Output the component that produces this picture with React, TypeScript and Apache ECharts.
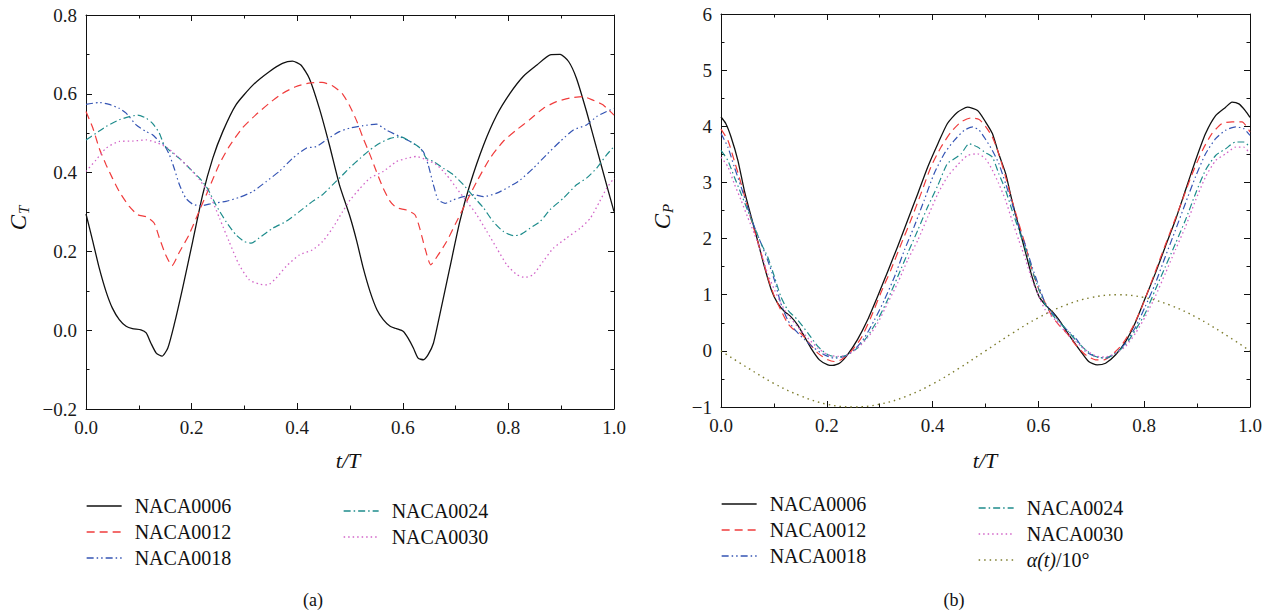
import React, { useEffect, useRef } from 'react';
import * as echarts from 'echarts';

// ---------- (a) thrust coefficient C_T vs t/T ----------
const ct0006: number[][] = [
  [0, 0.295], [0.013, 0.225], [0.025, 0.158], [0.038, 0.098], [0.05, 0.056], [0.063, 0.027], [0.076, 0.01],
  [0.088, 0.004], [0.104, 0.001], [0.114, -0.007], [0.123, -0.033], [0.133, -0.058], [0.144, -0.066],
  [0.155, -0.045], [0.167, 0.014], [0.183, 0.107], [0.202, 0.225], [0.221, 0.344], [0.24, 0.436],
  [0.259, 0.504], [0.284, 0.572], [0.316, 0.622], [0.347, 0.656], [0.372, 0.677], [0.391, 0.683],
  [0.407, 0.673], [0.423, 0.639], [0.442, 0.563], [0.461, 0.47], [0.48, 0.369], [0.5, 0.288],
  [0.513, 0.225], [0.525, 0.158], [0.538, 0.098], [0.551, 0.052], [0.563, 0.027], [0.576, 0.01],
  [0.588, 0.004], [0.601, -0.003], [0.61, -0.02], [0.62, -0.045], [0.629, -0.071], [0.639, -0.075],
  [0.648, -0.062], [0.658, -0.033], [0.67, 0.039], [0.689, 0.158], [0.708, 0.276], [0.727, 0.369],
  [0.753, 0.47], [0.778, 0.546], [0.803, 0.601], [0.828, 0.644], [0.854, 0.673], [0.879, 0.699],
  [0.898, 0.7], [0.914, 0.682], [0.929, 0.639], [0.948, 0.555], [0.967, 0.462], [0.986, 0.369], [1.0, 0.301],
];
const ct0012: number[][] = [
  [0, 0.555], [0.013, 0.513], [0.025, 0.462], [0.038, 0.42], [0.05, 0.386], [0.063, 0.352], [0.082, 0.314],
  [0.098, 0.293], [0.114, 0.288], [0.129, 0.272], [0.139, 0.234], [0.151, 0.191], [0.163, 0.164],
  [0.176, 0.196], [0.195, 0.242], [0.214, 0.301], [0.233, 0.36], [0.252, 0.42], [0.271, 0.466],
  [0.296, 0.513], [0.321, 0.546], [0.347, 0.576], [0.372, 0.601], [0.397, 0.618], [0.422, 0.627],
  [0.447, 0.629], [0.466, 0.621], [0.485, 0.601], [0.5, 0.568], [0.513, 0.53], [0.525, 0.487],
  [0.538, 0.445], [0.55, 0.403], [0.563, 0.36], [0.576, 0.327], [0.588, 0.311], [0.607, 0.305],
  [0.623, 0.293], [0.632, 0.259], [0.642, 0.208], [0.653, 0.166], [0.667, 0.191], [0.683, 0.225],
  [0.702, 0.276], [0.721, 0.327], [0.74, 0.377], [0.765, 0.436], [0.79, 0.479], [0.815, 0.508],
  [0.84, 0.534], [0.866, 0.563], [0.891, 0.58], [0.916, 0.589], [0.941, 0.593], [0.96, 0.584],
  [0.979, 0.572], [1.0, 0.546],
];
const ct0018: number[][] = [
  [0, 0.573], [0.025, 0.578], [0.044, 0.573], [0.063, 0.563], [0.076, 0.551], [0.095, 0.521], [0.114, 0.504],
  [0.126, 0.496], [0.139, 0.479], [0.148, 0.47], [0.158, 0.445], [0.167, 0.411], [0.177, 0.369],
  [0.189, 0.335], [0.202, 0.32], [0.218, 0.316], [0.24, 0.322], [0.265, 0.327], [0.29, 0.337],
  [0.316, 0.352], [0.341, 0.377], [0.366, 0.403], [0.391, 0.436], [0.417, 0.462], [0.436, 0.466],
  [0.455, 0.483], [0.48, 0.504], [0.5, 0.513], [0.525, 0.519], [0.55, 0.523], [0.569, 0.508],
  [0.595, 0.491], [0.614, 0.479], [0.629, 0.466], [0.639, 0.453], [0.648, 0.42], [0.658, 0.369],
  [0.667, 0.331], [0.68, 0.322], [0.696, 0.331], [0.715, 0.339], [0.734, 0.344], [0.753, 0.339],
  [0.778, 0.348], [0.803, 0.365], [0.822, 0.381], [0.847, 0.411], [0.872, 0.445], [0.898, 0.479],
  [0.923, 0.508], [0.948, 0.521], [0.967, 0.542], [0.986, 0.555], [1.0, 0.563],
];
const ct0024: number[][] = [
  [0, 0.483], [0.019, 0.5], [0.038, 0.517], [0.063, 0.534], [0.082, 0.542], [0.098, 0.546], [0.114, 0.538],
  [0.126, 0.525], [0.139, 0.5], [0.148, 0.47], [0.161, 0.453], [0.177, 0.436], [0.196, 0.411],
  [0.215, 0.386], [0.23, 0.36], [0.246, 0.318], [0.265, 0.276], [0.284, 0.242], [0.3, 0.225],
  [0.313, 0.221], [0.328, 0.234], [0.354, 0.259], [0.379, 0.276], [0.404, 0.301], [0.429, 0.327],
  [0.448, 0.344], [0.467, 0.369], [0.486, 0.394], [0.5, 0.413], [0.519, 0.436], [0.538, 0.458],
  [0.557, 0.475], [0.576, 0.487], [0.595, 0.491], [0.614, 0.479], [0.633, 0.462], [0.645, 0.436],
  [0.658, 0.428], [0.677, 0.411], [0.696, 0.394], [0.715, 0.369], [0.734, 0.339], [0.753, 0.31],
  [0.771, 0.276], [0.79, 0.251], [0.809, 0.24], [0.822, 0.242], [0.841, 0.259], [0.86, 0.276],
  [0.879, 0.306], [0.904, 0.335], [0.929, 0.369], [0.948, 0.386], [0.967, 0.411], [0.986, 0.445], [1.0, 0.466],
];
const ct0030: number[][] = [
  [0, 0.403], [0.019, 0.432], [0.038, 0.462], [0.063, 0.479], [0.088, 0.48], [0.114, 0.483], [0.136, 0.475],
  [0.155, 0.462], [0.177, 0.436], [0.196, 0.411], [0.215, 0.382], [0.234, 0.344], [0.253, 0.284],
  [0.271, 0.225], [0.29, 0.166], [0.309, 0.128], [0.328, 0.117], [0.344, 0.115], [0.36, 0.132],
  [0.379, 0.162], [0.404, 0.191], [0.429, 0.204], [0.448, 0.225], [0.467, 0.259], [0.486, 0.301],
  [0.5, 0.33], [0.519, 0.36], [0.538, 0.386], [0.563, 0.403], [0.588, 0.428], [0.607, 0.436],
  [0.626, 0.441], [0.645, 0.432], [0.664, 0.42], [0.683, 0.394], [0.702, 0.36], [0.721, 0.327],
  [0.74, 0.293], [0.759, 0.251], [0.778, 0.208], [0.797, 0.166], [0.816, 0.141], [0.831, 0.134],
  [0.847, 0.141], [0.866, 0.175], [0.885, 0.208], [0.91, 0.234], [0.936, 0.259], [0.955, 0.284],
  [0.973, 0.327], [0.986, 0.36], [1.0, 0.386],
];

// ---------- (b) power coefficient C_P vs t/T ----------
const cp0006: number[][] = [
  [0, 4.165], [0.009, 4.05], [0.019, 3.81], [0.032, 3.39], [0.044, 2.86], [0.057, 2.39], [0.069, 1.97],
  [0.082, 1.5], [0.095, 1.09], [0.107, 0.85], [0.12, 0.7], [0.132, 0.61], [0.145, 0.46], [0.158, 0.25],
  [0.17, 0.05], [0.186, -0.16], [0.202, -0.25], [0.211, -0.26], [0.224, -0.22], [0.239, -0.07],
  [0.258, 0.2], [0.277, 0.55], [0.296, 0.97], [0.315, 1.41], [0.334, 1.86], [0.353, 2.33], [0.372, 2.8],
  [0.391, 3.28], [0.41, 3.69], [0.428, 4.05], [0.447, 4.25], [0.466, 4.34], [0.485, 4.28], [0.5, 4.08],
  [0.513, 3.87], [0.525, 3.51], [0.538, 3.16], [0.55, 2.68], [0.563, 2.21], [0.576, 1.74], [0.588, 1.32],
  [0.601, 0.97], [0.613, 0.82], [0.626, 0.7], [0.639, 0.55], [0.651, 0.38], [0.664, 0.2], [0.68, -0.01],
  [0.695, -0.19], [0.711, -0.25], [0.727, -0.22], [0.746, -0.07], [0.765, 0.17], [0.784, 0.52],
  [0.802, 0.94], [0.821, 1.38], [0.84, 1.86], [0.859, 2.33], [0.878, 2.86], [0.897, 3.39], [0.916, 3.87],
  [0.935, 4.19], [0.954, 4.34], [0.966, 4.43], [0.979, 4.4], [0.991, 4.28], [1.0, 4.16],
];
const cp0012: number[][] = [
  [0, 3.95], [0.013, 3.75], [0.025, 3.39], [0.038, 2.98], [0.05, 2.57], [0.063, 2.15], [0.076, 1.74],
  [0.088, 1.32], [0.101, 0.97], [0.113, 0.73], [0.126, 0.49], [0.135, 0.4], [0.151, 0.31], [0.164, 0.17],
  [0.183, -0.04], [0.202, -0.16], [0.214, -0.19], [0.227, -0.16], [0.246, -0.01], [0.265, 0.23],
  [0.284, 0.61], [0.302, 1.03], [0.321, 1.44], [0.34, 1.89], [0.359, 2.33], [0.378, 2.8], [0.397, 3.28],
  [0.416, 3.63], [0.435, 3.9], [0.454, 4.08], [0.473, 4.15], [0.488, 4.12], [0.5, 4.0], [0.513, 3.81],
  [0.525, 3.51], [0.538, 3.1], [0.55, 2.68], [0.563, 2.27], [0.576, 1.86], [0.588, 1.44], [0.601, 1.09],
  [0.613, 0.85], [0.626, 0.61], [0.639, 0.46], [0.654, 0.31], [0.67, 0.11], [0.689, -0.07], [0.708, -0.16],
  [0.724, -0.16], [0.739, -0.07], [0.758, 0.11], [0.777, 0.4], [0.796, 0.79], [0.815, 1.26], [0.834, 1.74],
  [0.853, 2.21], [0.872, 2.68], [0.891, 3.16], [0.91, 3.57], [0.928, 3.87], [0.947, 4.05], [0.966, 4.08],
  [0.985, 4.08], [1.0, 3.9],
];
const cp0018: number[][] = [
  [0, 3.87], [0.013, 3.63], [0.025, 3.28], [0.038, 2.92], [0.05, 2.57], [0.063, 2.21], [0.076, 1.91],
  [0.088, 1.62], [0.101, 1.26], [0.113, 0.85], [0.126, 0.55], [0.142, 0.35], [0.158, 0.2], [0.176, 0.05],
  [0.195, -0.07], [0.214, -0.13], [0.233, -0.1], [0.252, 0.02], [0.271, 0.23], [0.29, 0.55], [0.309, 0.91],
  [0.328, 1.32], [0.347, 1.8], [0.365, 2.21], [0.384, 2.68], [0.403, 3.16], [0.422, 3.51], [0.441, 3.75],
  [0.46, 3.93], [0.476, 3.99], [0.488, 3.93], [0.5, 3.77], [0.513, 3.57], [0.525, 3.34], [0.538, 2.98],
  [0.55, 2.63], [0.563, 2.21], [0.576, 1.86], [0.588, 1.5], [0.601, 1.15], [0.613, 0.85], [0.632, 0.61],
  [0.651, 0.4], [0.67, 0.23], [0.689, -0.01], [0.708, -0.1], [0.727, -0.13], [0.746, -0.04], [0.765, 0.14],
  [0.784, 0.43], [0.802, 0.79], [0.821, 1.2], [0.84, 1.68], [0.859, 2.15], [0.878, 2.63], [0.897, 3.1],
  [0.916, 3.51], [0.935, 3.78], [0.954, 3.93], [0.973, 3.99], [0.988, 3.96], [1.0, 3.84],
];
const cp0024: number[][] = [
  [0, 3.57], [0.013, 3.39], [0.025, 3.1], [0.038, 2.8], [0.05, 2.51], [0.063, 2.21], [0.076, 1.91],
  [0.088, 1.68], [0.101, 1.32], [0.113, 0.97], [0.126, 0.73], [0.145, 0.55], [0.164, 0.32], [0.183, 0.08],
  [0.202, -0.07], [0.221, -0.11], [0.239, -0.07], [0.258, 0.05], [0.277, 0.26], [0.296, 0.55], [0.315, 0.91],
  [0.334, 1.32], [0.353, 1.74], [0.372, 2.15], [0.391, 2.57], [0.41, 2.95], [0.428, 3.34], [0.441, 3.42],
  [0.454, 3.51], [0.469, 3.69], [0.485, 3.63], [0.5, 3.53], [0.513, 3.45], [0.525, 3.16], [0.538, 2.86],
  [0.55, 2.51], [0.563, 2.15], [0.576, 1.8], [0.588, 1.44], [0.601, 1.09], [0.613, 0.82], [0.632, 0.58],
  [0.651, 0.4], [0.67, 0.2], [0.689, 0.02], [0.708, -0.1], [0.727, -0.13], [0.746, -0.04], [0.765, 0.11],
  [0.784, 0.38], [0.802, 0.67], [0.821, 1.09], [0.84, 1.5], [0.859, 1.91], [0.878, 2.33], [0.897, 2.8],
  [0.916, 3.22], [0.935, 3.48], [0.954, 3.6], [0.973, 3.72], [0.988, 3.72], [1.0, 3.63],
];
const cp0030: number[][] = [
  [0, 3.45], [0.013, 3.28], [0.025, 2.98], [0.038, 2.68], [0.05, 2.39], [0.063, 2.09], [0.076, 1.74],
  [0.088, 1.38], [0.101, 1.09], [0.113, 0.85], [0.126, 0.64], [0.145, 0.43], [0.164, 0.23], [0.183, 0.05],
  [0.202, -0.07], [0.221, -0.1], [0.239, -0.07], [0.258, 0.05], [0.277, 0.23], [0.296, 0.49], [0.315, 0.85],
  [0.334, 1.21], [0.353, 1.62], [0.372, 1.97], [0.391, 2.39], [0.41, 2.8], [0.428, 3.1], [0.447, 3.31],
  [0.466, 3.48], [0.485, 3.51], [0.5, 3.42], [0.513, 3.22], [0.525, 2.98], [0.538, 2.68], [0.55, 2.33],
  [0.563, 1.97], [0.576, 1.62], [0.588, 1.26], [0.601, 0.97], [0.613, 0.73], [0.632, 0.55], [0.651, 0.34],
  [0.67, 0.17], [0.689, 0.02], [0.708, -0.09], [0.727, -0.11], [0.746, -0.04], [0.765, 0.08], [0.784, 0.32],
  [0.802, 0.61], [0.821, 0.97], [0.84, 1.38], [0.859, 1.8], [0.878, 2.21], [0.897, 2.68], [0.916, 3.1],
  [0.935, 3.39], [0.954, 3.51], [0.973, 3.63], [0.988, 3.63], [1.0, 3.51],
];
const alphaOver10: number[][] = [
  [0, 0], [0.05, -0.3], [0.1, -0.58], [0.15, -0.8], [0.2, -0.95], [0.25, -1.0], [0.3, -0.95], [0.35, -0.81],
  [0.4, -0.59], [0.45, -0.31], [0.5, 0], [0.55, 0.31], [0.6, 0.59], [0.65, 0.81], [0.7, 0.95], [0.75, 1.0],
  [0.8, 0.95], [0.85, 0.81], [0.9, 0.59], [0.95, 0.31], [1.0, 0],
];

const seriesNames = ['NACA0006', 'NACA0012', 'NACA0018', 'NACA0024', 'NACA0030'];
const alphaName = 'α(t)/10°';
const ctData = [ct0006, ct0012, ct0018, ct0024, ct0030];
const cpData = [cp0006, cp0012, cp0018, cp0024, cp0030];

const FONT = '"Liberation Serif", "DejaVu Serif", serif';
const lineColors = ['#111111', '#f03c3c', '#3454b4', '#1e8c8c', '#d264c8'];
const lineDashes: any[] = ['solid', [8, 5], [7, 3, 1.5, 3, 1.5, 3], [7, 3, 1.5, 3], [1.5, 3]];
const lineWidths = [1.3, 1.2, 1.2, 1.2, 1.3];
const alphaColor = '#7c7c2c';

const fmtSigned = (v: number, d: number) => (v < 0 ? '\u2212' + Math.abs(v).toFixed(d) : v.toFixed(d));

function axisCommon(showLabel: boolean) {
  return {
    axisLine: { show: true, onZero: false, lineStyle: { color: '#111', width: 1 } },
    axisTick: { show: true, inside: true, length: 6, lineStyle: { color: '#111', width: 1 } },
    minorTick: { show: true, splitNumber: 2, length: 3.5, lineStyle: { color: '#111', width: 1 } },
    splitLine: { show: false },
    axisLabel: { show: showLabel, fontFamily: FONT, fontSize: 19, color: '#1a1a1a', margin: 9 },
  };
}

export default function App() {
  const ref = useRef<HTMLDivElement>(null);
  useEffect(() => {
    document.body.style.margin = '0';
    const chart = echarts.init(ref.current!, null, { renderer: 'svg' });
    const xBase = { type: 'value', min: 0, max: 1, interval: 0.2 };
    const series: any[] = [];
    ctData.forEach((d, i) => {
      series.push({
        type: 'line', name: seriesNames[i], data: d, xAxisIndex: 0, yAxisIndex: 0, symbol: 'none', smooth: 0.2,
        lineStyle: { color: lineColors[i], width: lineWidths[i], type: lineDashes[i] },
        itemStyle: { color: lineColors[i] },
      });
    });
    cpData.forEach((d, i) => {
      series.push({
        type: 'line', name: seriesNames[i], data: d, xAxisIndex: 2, yAxisIndex: 2, symbol: 'none', smooth: 0.2,
        lineStyle: { color: lineColors[i], width: lineWidths[i], type: lineDashes[i] },
        itemStyle: { color: lineColors[i] },
      });
    });
    series.push({
      type: 'line', name: alphaName, data: alphaOver10, xAxisIndex: 2, yAxisIndex: 2, symbol: 'none', smooth: 0.4,
      lineStyle: { color: alphaColor, width: 1.4, type: [1.5, 4] },
      itemStyle: { color: alphaColor },
    });

    const legendBase = {
      orient: 'vertical', itemGap: 0, itemWidth: 35, itemHeight: 14, padding: 0,
      selectedMode: false,
      itemStyle: { opacity: 0 },
      lineStyle: { width: 1.3 },
      textStyle: {
        fontFamily: FONT, fontSize: 20, color: '#111', lineHeight: 26, padding: [0, 0, 0, 8],
        rich: { it: { fontFamily: FONT, fontSize: 20, fontStyle: 'italic', color: '#111' }, n: { fontFamily: FONT, fontSize: 20, color: '#111' } },
      },
      formatter: (name: string) => (name === alphaName ? '{it|α(t)}{n|/10°}' : name),
    };

    const option: any = {
      animation: false,
      backgroundColor: '#ffffff',
      grid: [
        { left: 86, top: 15, width: 528, height: 394 },
        { left: 721, top: 14, width: 529, height: 393 },
      ],
      xAxis: [
        { ...xBase, gridIndex: 0, position: 'bottom', ...axisCommon(true), axisLabel: { ...axisCommon(true).axisLabel, formatter: (v: number) => v.toFixed(1) } },
        { ...xBase, gridIndex: 0, position: 'top', ...axisCommon(false) },
        { ...xBase, gridIndex: 1, position: 'bottom', ...axisCommon(true), axisLabel: { ...axisCommon(true).axisLabel, formatter: (v: number) => v.toFixed(1) } },
        { ...xBase, gridIndex: 1, position: 'top', ...axisCommon(false) },
      ],
      yAxis: [
        { type: 'value', gridIndex: 0, min: -0.2, max: 0.8, interval: 0.2, position: 'left', ...axisCommon(true), axisLabel: { ...axisCommon(true).axisLabel, formatter: (v: number) => fmtSigned(v, 1) } },
        { type: 'value', gridIndex: 0, min: -0.2, max: 0.8, interval: 0.2, position: 'right', ...axisCommon(false) },
        { type: 'value', gridIndex: 1, min: -1, max: 6, interval: 1, position: 'left', ...axisCommon(true), axisLabel: { ...axisCommon(true).axisLabel, formatter: (v: number) => fmtSigned(v, 0) } },
        { type: 'value', gridIndex: 1, min: -1, max: 6, interval: 1, position: 'right', ...axisCommon(false) },
      ],
      legend: [
        { ...legendBase, left: 86, top: 493, data: seriesNames.slice(0, 3) },
        { ...legendBase, left: 343, top: 498, data: seriesNames.slice(3, 5) },
        { ...legendBase, left: 721, top: 491, data: seriesNames.slice(0, 3) },
        { ...legendBase, left: 978, top: 495, data: [...seriesNames.slice(3, 5), alphaName] },
      ],
      graphic: [
        { type: 'text', x: 348, y: 460, style: { text: 't/T', font: `italic 22px ${FONT}`, fill: '#111', align: 'center', verticalAlign: 'middle', textAlign: 'center', textVerticalAlign: 'middle' } },
        { type: 'text', x: 985, y: 460, style: { text: 't/T', font: `italic 22px ${FONT}`, fill: '#111', align: 'center', verticalAlign: 'middle', textAlign: 'center', textVerticalAlign: 'middle' } },
        {
          type: 'group', x: 18, y: 212, rotation: Math.PI / 2,
          children: [
            { type: 'text', x: -3, y: 0, style: { text: 'C', font: `italic 23px ${FONT}`, fill: '#111', align: 'right', verticalAlign: 'middle', textAlign: 'right', textVerticalAlign: 'middle' } },
            { type: 'text', x: -2, y: 6, style: { text: 'T', font: `italic 15px ${FONT}`, fill: '#111', align: 'left', verticalAlign: 'middle', textAlign: 'left', textVerticalAlign: 'middle' } },
          ],
        },
        {
          type: 'group', x: 662, y: 211, rotation: Math.PI / 2,
          children: [
            { type: 'text', x: -3, y: 0, style: { text: 'C', font: `italic 23px ${FONT}`, fill: '#111', align: 'right', verticalAlign: 'middle', textAlign: 'right', textVerticalAlign: 'middle' } },
            { type: 'text', x: -2, y: 6, style: { text: 'P', font: `italic 15px ${FONT}`, fill: '#111', align: 'left', verticalAlign: 'middle', textAlign: 'left', textVerticalAlign: 'middle' } },
          ],
        },
        { type: 'text', x: 313, y: 600, style: { text: '(a)', font: `18px ${FONT}`, fill: '#111', align: 'center', verticalAlign: 'middle', textAlign: 'center', textVerticalAlign: 'middle' } },
        { type: 'text', x: 954, y: 600, style: { text: '(b)', font: `18px ${FONT}`, fill: '#111', align: 'center', verticalAlign: 'middle', textAlign: 'center', textVerticalAlign: 'middle' } },
      ],
      series,
    };
    chart.setOption(option);
    return () => chart.dispose();
  }, []);
  return <div ref={ref} style={{ width: 1274, height: 616, background: '#fff' }} />;
}
